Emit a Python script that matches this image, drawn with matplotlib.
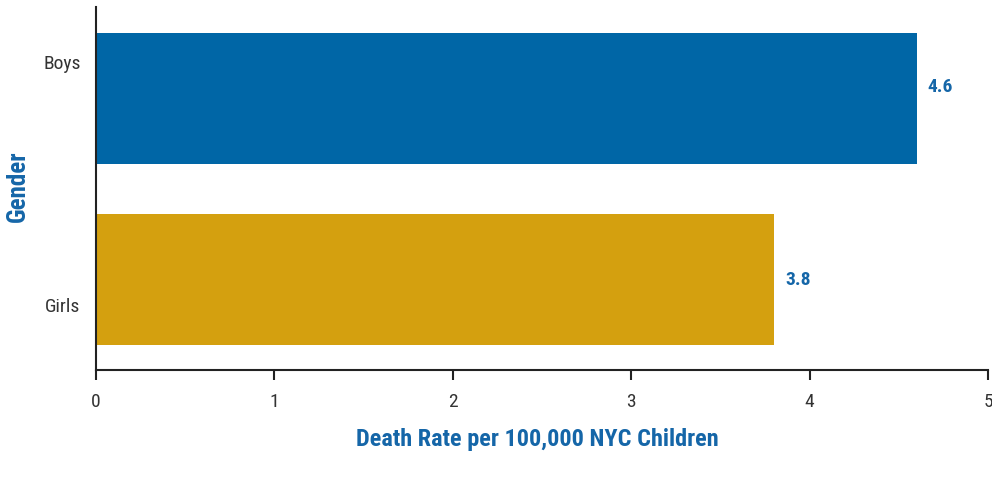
import matplotlib
matplotlib.use("Agg")
import matplotlib.pyplot as plt

# data
categories = ["Girls", "Boys"]
rates = [3.8, 4.6]
bar_colors = ["#D4A00F", "#0066A6"]
x_ticks = [0, 1, 2, 3, 4, 5]

# label placement (the reference puts them off-centre)
tick_pos = [-0.135, 1.207]
value_pos = [0.0, 1.069]

blue = "#1566A8"
plt.rcParams["font.family"] = ["Roboto Condensed", "DejaVu Sans"]

fig = plt.figure(figsize=(9.92, 4.85), dpi=100)
ax = fig.add_axes([0.0968, 0.235, 0.8992, 0.7485])

ypos = range(len(categories))
ax.barh(ypos, rates, height=0.724, color=bar_colors)

for y, v in zip(value_pos, rates):
    ax.annotate(
        f"{v:.1f}",
        xy=(v, y),
        xytext=(11, 0),
        textcoords="offset pixels",
        va="center",
        ha="left",
        fontsize=14,
        fontweight="bold",
        color=blue,
    )

ax.set_xlim(0, 5)
ax.set_ylim(-0.5, 1.505)
ax.set_xticks(x_ticks)
ax.set_xticklabels([str(t) for t in x_ticks])
ax.set_yticks(tick_pos)
ax.set_yticklabels(categories)

ax.spines["top"].set_visible(False)
ax.spines["right"].set_visible(False)
for s in ["left", "bottom"]:
    ax.spines[s].set_linewidth(1.5)
    ax.spines[s].set_color("#222222")

ax.tick_params(axis="x", direction="out", length=7, width=1.5, color="#222222",
               labelsize=14, labelcolor="#333333", pad=9)
ax.tick_params(axis="y", length=0, labelsize=14, labelcolor="#333333", pad=11)

ax.set_xlabel("Death Rate per 100,000 NYC Children", fontsize=17.5,
              fontweight="bold", color=blue, va="center")
ax.xaxis.set_label_coords(0.495, -0.19)
ax.set_ylabel("Gender", fontsize=18, fontweight="bold", color=blue, va="center")
ax.yaxis.set_label_coords(-0.0874, 0.508)

fig.savefig("out.png", dpi=100)
